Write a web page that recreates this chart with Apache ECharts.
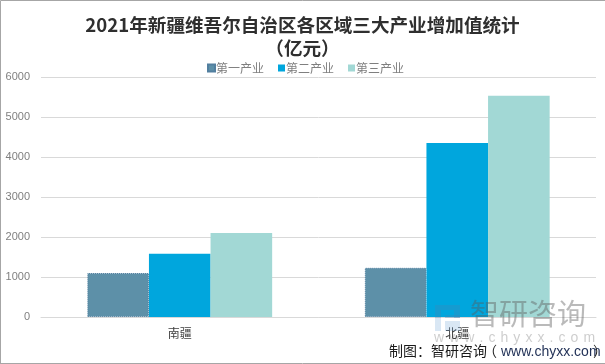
<!DOCTYPE html>
<html>
<head>
<meta charset="utf-8">
<style>
html, body { margin: 0; padding: 0; background: #fff; }
#chart { width: 605px; height: 364px; }
</style>
<script src="https://cdn.jsdelivr.net/npm/echarts@6/dist/echarts.min.js"></script>
</head>
<body>
<div id="chart"></div>
<script>
var categories = ['南疆', '北疆']
var seriesNames = ['第一产业', '第二产业', '第三产业']
var primary = [1100, 1230]
var secondary = [1580, 4350]
var tertiary = [2100, 5530]
var colors = ['#5d90a8', '#00a6dd', '#a2d8d5']
var cjk = '"Noto Sans CJK SC", sans-serif'
var latin = '"Liberation Sans", sans-serif'
var logoDark = 'rgba(70,130,180,0.30)'
var logoLight = 'rgba(120,170,215,0.28)'

var chart = echarts.init(document.getElementById('chart'), null, { renderer: 'canvas' })

chart.setOption({
  animation: false,
  title: {
    text: '2021年新疆维吾尔自治区各区域三大产业增加值统计\n（亿元）',
    left: 'center',
    top: 13,
    padding: 0,
    textStyle: { fontFamily: cjk, fontSize: 18.6, fontWeight: 'bold', color: '#2f2f2f', lineHeight: 23 }
  },
  legend: {
    data: seriesNames,
    top: 57,
    left: 202,
    itemWidth: 7,
    itemHeight: 7,
    itemGap: 14,
    icon: 'rect',
    textStyle: { fontFamily: cjk, fontSize: 12, color: '#7f7f7f', padding: [0, 0, 0, -4] }
  },
  grid: { left: 41, right: 9, top: 77, bottom: 47, outerBoundsMode: 'none' },
  xAxis: {
    type: 'category',
    data: categories,
    axisTick: { show: false },
    axisLine: { lineStyle: { color: '#d9d9d9', width: 1 } },
    axisLabel: { fontFamily: cjk, fontSize: 12, color: '#404040', margin: 10 }
  },
  yAxis: {
    type: 'value',
    min: 0,
    max: 6000,
    interval: 1000,
    axisLine: { show: false },
    axisTick: { show: false },
    splitLine: { lineStyle: { color: '#d9d9d9', width: 1 } },
    axisLabel: {
      fontFamily: latin,
      fontSize: 11,
      color: '#7f7f7f',
      margin: 11,
      formatter: function(v) { return String(v) }
    }
  },
  series: [
    {
      name: seriesNames[0],
      type: 'bar',
      data: primary,
      barGap: 0,
      barCategoryGap: '33.4%',
      itemStyle: { color: colors[0], borderColor: '#527f9f', borderWidth: 1, borderType: 'dotted' }
    },
    { name: seriesNames[1], type: 'bar', data: secondary, itemStyle: { color: colors[1] } },
    { name: seriesNames[2], type: 'bar', data: tertiary, itemStyle: { color: colors[2] } }
  ],
  graphic: [
    // picture frame, no line on the right
    {
      type: 'polyline', z: 100, silent: true,
      shape: { points: [[0.5, 363], [0.5, 0.5], [605, 0.5]] },
      style: { stroke: '#a6a6a6', lineWidth: 1, fill: 'none' }
    },
    {
      type: 'polyline', z: 100, silent: true,
      shape: { points: [[0, 363.5], [605, 363.5]] },
      style: { stroke: '#a6a6a6', lineWidth: 1, fill: 'none' }
    },
    // watermark logo
    { type: 'rect', z: 90, silent: true, shape: { x: 435, y: 305, width: 25, height: 5 }, style: { fill: logoDark } },
    { type: 'rect', z: 90, silent: true, shape: { x: 435, y: 310, width: 6, height: 8 }, style: { fill: logoDark } },
    { type: 'rect', z: 90, silent: true, shape: { x: 454, y: 310, width: 6, height: 8 }, style: { fill: logoDark } },
    { type: 'rect', z: 90, silent: true, shape: { x: 445, y: 315, width: 15, height: 3 }, style: { fill: logoDark } },
    { type: 'rect', z: 90, silent: true, shape: { x: 435, y: 318, width: 6, height: 13 }, style: { fill: logoLight } },
    { type: 'rect', z: 90, silent: true, shape: { x: 445, y: 321, width: 15, height: 10 }, style: { fill: logoLight } },
    // watermark text
    { type: 'text', z: 90, silent: true, x: 470, y: 299, style: { text: '智研咨询', fontFamily: cjk, fontSize: 29, fill: 'rgba(90,90,90,0.42)' } },
    { type: 'text', z: 90, silent: true, x: 434, y: 331, style: { text: 'w\u200a w\u200a w\u200a .\u200a c\u200a h\u200a y\u200a x\u200a x\u200a .\u200a c\u200a o\u200a m', fontFamily: latin, fontSize: 14, fill: 'rgba(90,90,90,0.3)' } },
    // source line
    { type: 'text', z: 95, silent: true, x: 389, y: 344, style: { text: '制图：智研咨询', fontFamily: cjk, fontSize: 14, fill: '#1a1a1a' } },
    { type: 'text', z: 95, silent: true, x: 483, y: 344, style: { text: '（', fontFamily: cjk, fontSize: 14, fill: '#1a1a1a' } },
    { type: 'text', z: 95, silent: true, x: 501, y: 345, style: { text: 'www.chyxx.com', fontFamily: latin, fontSize: 14, fill: '#1f2f55' } },
    { type: 'text', z: 95, silent: true, x: 593, y: 344, style: { text: '）', fontFamily: cjk, fontSize: 14, fill: '#1a1a1a' } }
  ]
})
</script>
</body>
</html>
